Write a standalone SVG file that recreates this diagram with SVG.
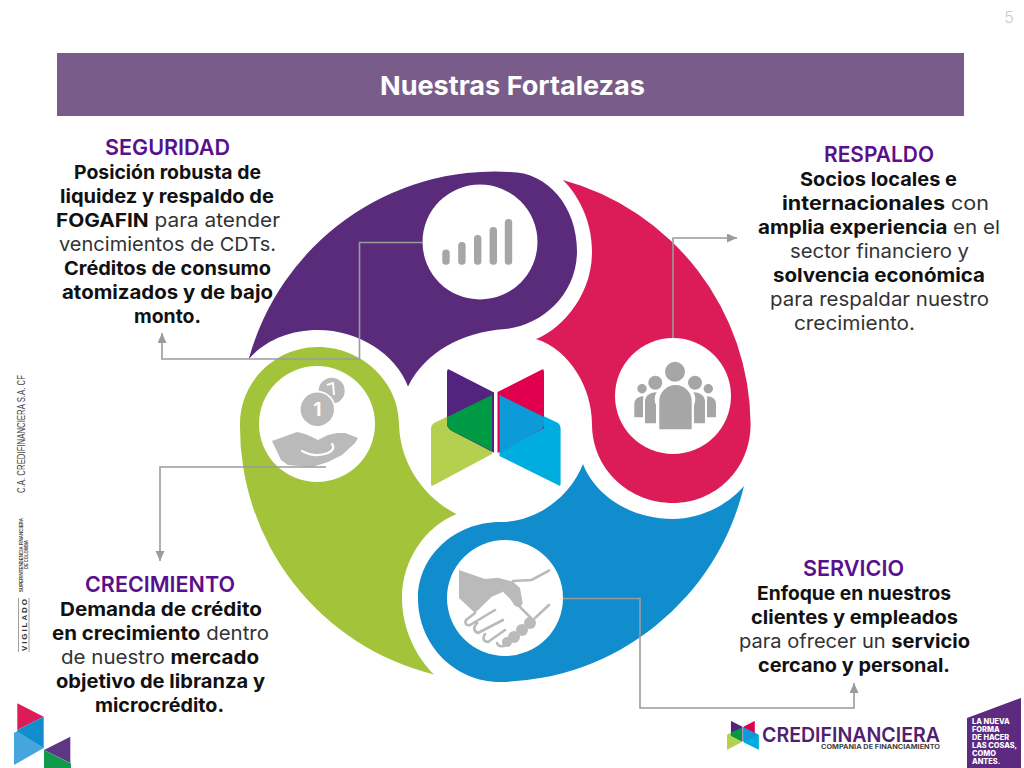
<svg xmlns="http://www.w3.org/2000/svg" width="1024" height="768" viewBox="0 0 1024 768">
<style>
text{font-family:Inter,"Noto Sans","Liberation Sans",sans-serif}
.h{font-size:22px;fill:#5a0f8c;font-weight:600}
.t{font-size:19px;fill:#333;font-weight:400}
.b{font-weight:700;fill:#111}
.c{fill:none;stroke:#9b9b9b;stroke-width:1.6}
.ic{fill:#a6a6a6}
.il{fill:#bababa}
.ws{fill:none;stroke:#fff}
.side{fill:#444;font-family:"Liberation Sans",sans-serif}
</style>
<defs>
<marker id="arr" markerUnits="userSpaceOnUse" markerWidth="12" markerHeight="10" refX="10" refY="4.5" orient="auto"><path d="M0 0L10 4.5L0 9Z" fill="#9b9b9b"/></marker>
<g id="mark">
<path d="M431 428Q431 425 434 423L492 395V454L434 485Q431 487 431 484Z" fill="#b5cf4f"/>
<path d="M560.6 428Q560.6 425 558 423L499.5 395V456L558 485Q560.6 487 560.6 484Z" fill="#00ade0"/>
<path d="M447 372Q447 368 450 370L494 392.5V452.7L452 431Q447 428 447 424Z" fill="#52237f"/>
<path d="M544 372Q544 368 541 370L497.5 392V453L544 428Z" fill="#e0004d"/>
<path d="M447 417L492 395V451L452 431Q447 428 447 424Z" fill="#009a44"/>
<path d="M499.5 395L544 417V424Q544 428 540 430L499.5 453Z" fill="#0c9ad8"/>
</g>
</defs>
<rect width="1024" height="768" fill="#fff"/>
<g id="page-number"><text x="1009" y="23" font-size="16" fill="#c8c8c8" text-anchor="middle" font-weight="300">5</text></g>
<g id="banner">
<rect x="57" y="53" width="907" height="63" fill="#7a5c8b"/>
<text x="380" y="95" font-size="26" font-weight="700" fill="#fff" textLength="265" lengthAdjust="spacingAndGlyphs">Nuestras Fortalezas</text>
</g>
<g id="seguridad-petal">
<path d="M248.6 359.5A255 255 0 0 1 510 172C548 172 577 207 577 251C577 296 540 326 505 329C462 332 425 352 408 386.5C396 354 358 330 318 330C288 330 263 342 248.6 359.5Z" fill="#5a2a7b"/>
<circle cx="480" cy="242" r="57.5" fill="#fff"/>
<g class="ic"><rect x="442.3" y="249.6" width="7.4" height="15.2" rx="3.5"/><rect x="458.2" y="242" width="7.4" height="22.8" rx="3.5"/><rect x="474" y="235" width="7.4" height="29.8" rx="3.5"/><rect x="489.6" y="227" width="7.4" height="37.8" rx="3.5"/><rect x="504.8" y="219" width="7.4" height="45.8" rx="3.5"/></g>
</g>
<g id="respaldo-petal">
<path d="M563 180A255 255 0 0 1 750.6 424C750.6 470 715 503 673 503C630 503 592 470 592 424C592 388 570 350 536 339C556 332 592 300 592 252C592 220 578 195 563 180Z" fill="#dc1c58"/>
<circle cx="673" cy="396" r="58" fill="#fff"/>
<g class="ic">
<circle cx="675" cy="371.7" r="10"/><circle cx="655.3" cy="382.7" r="7"/><circle cx="695" cy="382.7" r="7"/><circle cx="642" cy="388.7" r="4.7"/><circle cx="708.3" cy="388.7" r="4.7"/>
<path d="M659.3 429.3V401A16.2 16 0 0 1 691.7 401V429.3Z"/>
<path d="M645 423.3V402Q645 393 656.7 392.3Q653 398 656 405V423.3ZM705 423.3V402Q705 393 693.3 392.3Q697 398 694 405V423.3Z"/>
<path d="M634.3 417.3V404Q634.3 397 643.3 396Q643 400 643 405V417.3ZM716 417.3V404Q716 397 707.3 396Q707 400 707 405V417.3Z"/>
</g>
</g>
<g id="servicio-petal">
<path d="M744 486A255 255 0 0 1 500 682C455 682 418 645 418 598C418 556 455 522 500 522C537 522 570 497 583 464C595 495 630 519 673 519C700 519 728 505 744 486Z" fill="#118dcd"/>
<circle cx="505" cy="598" r="58" fill="#fff"/>
<g class="il">
<path d="M459 570L485 579L498 577.7L513 581.7L520 588L522.7 603Q521 608 518 607Q514 606 513 603L505 591L491.7 596.7L475 613L459 598Z"/>
<circle cx="530" cy="623" r="6"/><circle cx="522" cy="630" r="6"/><circle cx="514" cy="637" r="6"/><circle cx="507" cy="642" r="5"/>
</g>
<g fill="none" stroke="#bababa" stroke-width="2.6" stroke-linecap="round">
<path d="M513 581L531.7 580L549 570.7M549 605L535 618"/>
<path d="M475 613L466 620Q464 626 470 625L495 610M477 623Q471 630 478 633L503 620M485 634Q481 641 488 642L505 630M497 643Q498 647 504 646M505 592L531 618"/>
</g>
</g>
<g id="crecimiento-petal">
<path d="M434 674.5A255 255 0 0 1 240 424C240 382 275 347 318 347C362 347 399 382 399 424C400 465 425 498 456.5 514C425 527 402 560 402 598C402 630 417 658 434 674.5Z" fill="#a3c33b"/>
<circle cx="317" cy="424" r="58" fill="#fff"/>
<g class="il">
<circle cx="331.7" cy="390.7" r="13"/>
<circle cx="317.3" cy="409.3" r="18.5" fill="#fff"/>
<circle cx="317.3" cy="409.3" r="16.7"/>
<path d="M272 441L297 432Q305 433 318 440L328 435L337 433L345 433L353 436L358 438L355 443L342 455L328 462L312 467L288 465L281 460Z"/>
</g>
<path class="ws" stroke-width="2.2" d="M302 451Q315 458 328 453Q336 449 332 444" stroke-linecap="round"/>
<path class="ws" stroke-width="2" d="M327 385L333 383L334 395"/>
<text x="317.3" y="416" font-size="19" font-weight="700" fill="#fff" text-anchor="middle">1</text>
</g>
<g id="centro"><use href="#mark"/></g>
<g id="connectors">
<path class="c" marker-end="url(#arr)" d="M423 242.500H359.500V359H162V333"/>
<path class="c" marker-end="url(#arr)" d="M673 338V238H737"/>
<path class="c" marker-end="url(#arr)" d="M326 467H160V561"/>
<path class="c" marker-end="url(#arr)" d="M563 598.500H640V708H854V683"/>
</g>
<g id="seguridad">
<text class="h" x="105" y="155" textLength="125" lengthAdjust="spacingAndGlyphs">SEGURIDAD</text>
<text class="t b" x="74" y="179" textLength="187" lengthAdjust="spacingAndGlyphs">Posición robusta de</text>
<text class="t b" x="60" y="203" textLength="214" lengthAdjust="spacingAndGlyphs">liquidez y respaldo de</text>
<text class="t" x="56" y="227" textLength="224" lengthAdjust="spacingAndGlyphs"><tspan class="b">FOGAFIN</tspan> para atender</text>
<text class="t" x="59" y="251" textLength="217" lengthAdjust="spacingAndGlyphs">vencimientos de CDTs.</text>
<text class="t b" x="64" y="275" textLength="207" lengthAdjust="spacingAndGlyphs">Créditos de consumo</text>
<text class="t b" x="62" y="299" textLength="211" lengthAdjust="spacingAndGlyphs">atomizados y de bajo</text>
<text class="t b" x="134" y="323" textLength="67" lengthAdjust="spacingAndGlyphs">monto.</text>
</g>
<g id="respaldo">
<text class="h" x="824" y="162" textLength="110" lengthAdjust="spacingAndGlyphs">RESPALDO</text>
<text class="t b" x="800" y="186" textLength="157" lengthAdjust="spacingAndGlyphs">Socios locales e</text>
<text class="t" x="782" y="210" textLength="207" lengthAdjust="spacingAndGlyphs"><tspan class="b">internacionales</tspan> con</text>
<text class="t" x="758" y="234" textLength="242" lengthAdjust="spacingAndGlyphs"><tspan class="b">amplia experiencia</tspan> en el</text>
<text class="t" x="790" y="258" textLength="179" lengthAdjust="spacingAndGlyphs">sector financiero y</text>
<text class="t b" x="773" y="282" textLength="212" lengthAdjust="spacingAndGlyphs">solvencia económica</text>
<text class="t" x="770" y="306" textLength="219" lengthAdjust="spacingAndGlyphs">para respaldar nuestro</text>
<text class="t" x="794" y="330" textLength="121" lengthAdjust="spacingAndGlyphs">crecimiento.</text>
</g>
<g id="servicio">
<text class="h" x="803" y="576" textLength="101" lengthAdjust="spacingAndGlyphs">SERVICIO</text>
<text class="t b" x="757" y="600" textLength="194" lengthAdjust="spacingAndGlyphs">Enfoque en nuestros</text>
<text class="t b" x="751" y="624" textLength="207" lengthAdjust="spacingAndGlyphs">clientes y empleados</text>
<text class="t" x="739" y="648" textLength="231" lengthAdjust="spacingAndGlyphs">para ofrecer un <tspan class="b">servicio</tspan></text>
<text class="t b" x="758" y="672" textLength="192" lengthAdjust="spacingAndGlyphs">cercano y personal.</text>
</g>
<g id="crecimiento">
<text class="h" x="85" y="592" textLength="150" lengthAdjust="spacingAndGlyphs">CRECIMIENTO</text>
<text class="t b" x="60" y="616" textLength="202" lengthAdjust="spacingAndGlyphs">Demanda de crédito</text>
<text class="t" x="52" y="640" textLength="217" lengthAdjust="spacingAndGlyphs"><tspan class="b">en crecimiento</tspan> dentro</text>
<text class="t" x="61" y="664" textLength="198" lengthAdjust="spacingAndGlyphs">de nuestro <tspan class="b">mercado</tspan></text>
<text class="t b" x="56" y="688" textLength="209" lengthAdjust="spacingAndGlyphs">objetivo de libranza y</text>
<text class="t b" x="95" y="712" textLength="129" lengthAdjust="spacingAndGlyphs">microcrédito.</text>
</g>
<g id="vigilado">
<text class="side" transform="translate(25,493) rotate(-90)" font-size="10" textLength="118" lengthAdjust="spacingAndGlyphs">C.A. CREDIFINANCIERA S.A. CF</text>
<text class="side" transform="translate(23,592) rotate(-90)" font-size="4.6" font-weight="700" textLength="74" lengthAdjust="spacingAndGlyphs">SUPERINTENDENCIA FINANCIERA</text>
<text class="side" transform="translate(28,569) rotate(-90)" font-size="4.6" font-weight="700" textLength="29" lengthAdjust="spacingAndGlyphs">DE COLOMBIA</text>
<text class="side" transform="translate(27,651) rotate(-90)" font-size="8" font-weight="700" textLength="52" lengthAdjust="spacing" style="fill:#333">VIGILADO</text>
<path d="M18.500 598V652M29 598V652" stroke="#777" stroke-width=".7"/>
</g>
<g id="corner-logo">
<path d="M17.300 703.300L43.700 716.700L17.300 730Z" fill="#dc1c58"/>
<path d="M17.300 730L43.700 716.700V748L17.300 733Z" fill="#118dcd"/>
<path d="M14 733L17.300 731L43.700 748L14 765Z" fill="#46a5dc"/>
<path d="M44 750L70.300 736.700V763Z" fill="#5f3585"/>
<path d="M44 750L71 763.500V768H44Z" fill="#0f9a4c"/>
</g>
<g id="credifinanciera-logo">
<use href="#mark" transform="translate(727,721) scale(.246) translate(-431,-369)"/>
<text x="762" y="742" font-size="20.500" font-weight="600" fill="#4f2170" textLength="178" lengthAdjust="spacingAndGlyphs">CREDIFINANCIERA</text>
<text x="821" y="749" font-size="5.500" font-weight="700" fill="#3c3c3c" textLength="119" lengthAdjust="spacingAndGlyphs">COMPANIA DE FINANCIAMIENTO</text>
</g>
<g id="lema">
<path d="M967 718L1021 698V768H967Z" fill="#5c2a7f"/>
<g font-size="7.400" font-weight="800" fill="#fff">
<text x="972" y="724">LA NUEVA</text>
<text x="972" y="732">FORMA</text>
<text x="972" y="740">DE HACER</text>
<text x="972" y="748">LAS COSAS,</text>
<text x="972" y="756">COMO</text>
<text x="972" y="764">ANTES.</text>
</g>
</g>
</svg>
